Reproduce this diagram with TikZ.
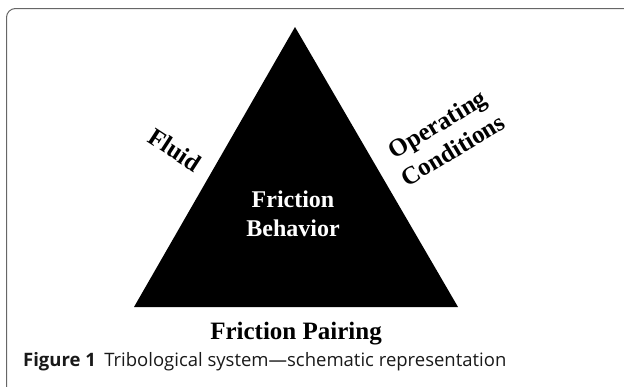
\documentclass[tikz,border=0pt]{standalone}
\usepackage{fontspec}
\setmainfont{Liberation Serif}
\setsansfont{Open Sans}
\usetikzlibrary{positioning}
\tikzset{
  label text/.style={font=\fontsize{25}{30}\selectfont\bfseries, align=center, inner sep=0pt},
  frame line/.style={color=black!60, line width=1pt, rounded corners=9pt}
}

\begin{document}
\begin{tikzpicture}[x=1pt,y=-1pt]
\useasboundingbox (0,0) rectangle (624,386);
% panel frame, open to the right and below
\draw[frame line] (6.5,400) -- (6.5,8.5) -- (640,8.5);
% the triangle
\fill[black] (295,27) -- (458,307) -- (134,307) -- cycle;
\node[label text, white, font=\fontsize{24}{29.4}\selectfont\bfseries] (behavior) at (293,214) {Friction\\Behavior};
\node[label text, anchor=base] (pairing) at (296,339.3) {Friction Pairing};
\node[label text, rotate=-33] (fluid) at (175,150) {Fluid};
\node[label text, rotate=31] (conditions) at (445,137) {Operating\\Conditions};
% caption
\node[anchor=base west, inner sep=0pt, font=\sffamily\fontsize{18.5}{22}\selectfont, color=black!90] (caption) at (23,366.7) {\textbf{Figure 1}\hspace{0.45em}Tribological system---schematic representation};
\end{tikzpicture}
\end{document}
